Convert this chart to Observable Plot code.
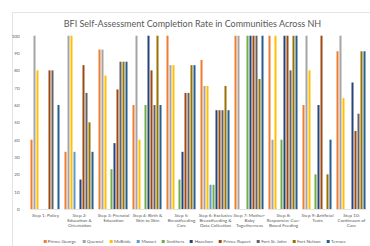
<!DOCTYPE html>
<html><head><meta charset="utf-8">
<script src="https://cdn.jsdelivr.net/npm/d3@7"></script>
<script src="https://cdn.jsdelivr.net/npm/@observablehq/plot@0.6"></script>
<style>
html,body{margin:0;padding:0;background:#fff;}
#chart{position:relative;width:370px;height:246px;overflow:hidden;font-family:Lato,sans-serif;}
#frame{position:absolute;left:12px;top:12px;width:400px;height:300px;border:1px solid #e4e4e4;box-sizing:border-box;}
#title{position:absolute;top:18px;left:192.5px;transform:translateX(-50%);white-space:nowrap;font-size:9px;color:#595959;line-height:12px;}
#plot{position:absolute;left:0;top:30px;}
#legend{position:absolute;top:238px;left:194.5px;transform:translateX(-50%);display:flex;gap:6px;white-space:nowrap;font-size:4.6px;color:#595959;line-height:6px;align-items:center;}
#legend span.it{display:inline-flex;align-items:center;}
.sw{display:inline-block;width:3px;height:3px;margin-right:1.5px;}
</style></head>
<body>
<div id="chart">
  <div id="frame"></div>
  <div id="title"></div>
  <div id="plot"></div>
  <div id="legend"></div>
</div>
<script>
const titleText = "BFI Self-Assessment Completion Rate in Communities Across NH";
const steps = ["Step 1","Step 2","Step 3","Step 4","Step 5","Step 6","Step 7","Step 8","Step 9","Step 10"];
const stepLabels = [
  "Step 1: Policy",
  "Step 2:\nEducation &\nOrientation",
  "Step 3: Prenatal\nEducation",
  "Step 4: Birth &\nSkin to Skin",
  "Step 5:\nBreastfeeding\nCare",
  "Step 6: Exclusive\nBreastfeeding &\nData Collection",
  "Step 7: Mother-\nBaby\nTogetherness",
  "Step 8:\nResponsive Cue-\nBased Feeding",
  "Step 9: Artificial\nTeats",
  "Step 10:\nContinuum of\nCare"
];
const communities = ["Prince George","Quesnel","McBride","Masset","Smithers","Hazelton","Prince Rupert","Fort St. John","Fort Nelson","Terrace"];
const colors = ["#ED7D31","#A5A5A5","#FFC000","#5B9BD5","#70AD47","#264478","#9E480E","#636363","#997300","#255E91"];
const yTicks = [0,10,20,30,40,50,60,70,80,90,100];

const princeGeorge = [40,33,92,60,100,86,100,100,60,91];
const quesnel      = [100,100,92,100,83,71,100,40,100,100];
const mcBride      = [80,100,77,40,83,71,0,100,80,64];
const masset       = [0,33,0,0,0,14,0,0,0,0];
const smithers     = [0,0,23,60,17,14,100,40,20,0];
const hazelton     = [0,17,38,100,33,57,100,100,60,73];
const princeRupert = [80,83,69,80,67,57,100,100,100,45];
const fortStJohn   = [80,67,85,60,67,57,100,80,0,55];
const fortNelson   = [0,50,85,100,83,71,75,100,20,91];
const terrace      = [60,33,85,60,83,57,100,100,40,91];
const series = [princeGeorge,quesnel,mcBride,masset,smithers,hazelton,princeRupert,fortStJohn,fortNelson,terrace];

const data = [];
steps.forEach((s, i) => communities.forEach((c, j) => data.push({step: s, community: c, value: series[j][i]})));
const labelOf = Object.fromEntries(steps.map((s, i) => [s, stepLabels[i]]));

document.getElementById("title").textContent = titleText;

const plot = Plot.plot({
  width: 370,
  height: 206,
  marginTop: 5.7,
  marginBottom: 27,
  marginLeft: 27.5,
  marginRight: 2.5,
  style: {fontFamily: "Lato, sans-serif", background: "transparent", overflow: "visible"},
  fx: {domain: steps, paddingInner: 4/34, paddingOuter: 2/34, label: null},
  x: {domain: communities, paddingInner: 0.25, paddingOuter: 0.125, axis: null},
  y: {domain: [0, 100], label: null},
  color: {domain: communities, range: colors},
  marks: [
    Plot.barY(data, {fx: "step", x: "community", y: "value", fill: "community"}),
    Plot.ruleY([0], {stroke: "#d9d9d9", strokeWidth: 0.7}),
    Plot.axisY({ticks: yTicks, tickSize: 0, tickPadding: 11, fontSize: 4.5, fill: "#595959", label: null}),
    Plot.axisFx({anchor: "bottom", tickSize: 0, tickPadding: 4, fontSize: 4.6, lineHeight: 1.09, fill: "#595959", label: null, tickFormat: d => labelOf[d]})
  ]
});
document.getElementById("plot").appendChild(plot);

const lg = document.getElementById("legend");
communities.forEach((c, i) => {
  const it = document.createElement("span");
  it.className = "it";
  const sw = document.createElement("span");
  sw.className = "sw";
  sw.style.background = colors[i];
  it.appendChild(sw);
  it.appendChild(document.createTextNode(c));
  lg.appendChild(it);
});
</script>
</body></html>
